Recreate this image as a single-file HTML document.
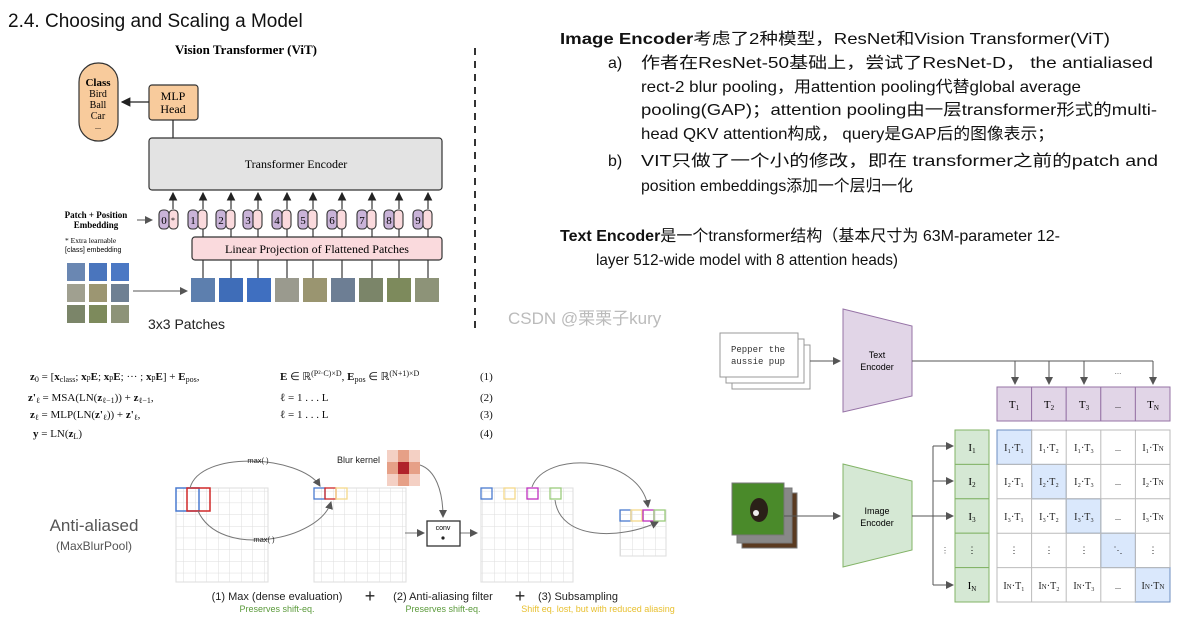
<!DOCTYPE html>
<html><head><meta charset="utf-8"><style>
body{margin:0;background:#fff;width:1189px;height:636px;overflow:hidden}
svg{display:block}
.cj{font-family:"Liberation Sans","Noto Sans CJK SC",sans-serif}
.sf{font-family:"Liberation Serif",serif}
.ss{font-family:"Liberation Sans",sans-serif}
</style></head><body>
<svg width="1189" height="636" viewBox="0 0 1189 636" xmlns="http://www.w3.org/2000/svg">
<defs>
<marker id="ah" markerWidth="8" markerHeight="8" refX="7" refY="4" orient="auto"><path d="M0,0 L8,4 L0,8 z" fill="#222"/></marker>
<marker id="ag" markerWidth="8" markerHeight="8" refX="7" refY="4" orient="auto"><path d="M0,0 L8,4 L0,8 z" fill="#555"/></marker>
<pattern id="g8" width="11.5" height="11.7" patternUnits="userSpaceOnUse"><path d="M11.5 0 V11.7 M0 11.7 H11.5" stroke="#ddd" fill="none"/></pattern>
</defs>
<!-- heading -->
<text x="8" y="27" class="ss" font-size="19" fill="#111">2.4. Choosing and Scaling a Model</text>
<text x="246" y="54" class="sf" font-size="13" font-weight="bold" text-anchor="middle">Vision Transformer (ViT)</text>
<line x1="475" y1="48" x2="475" y2="332" stroke="#333" stroke-width="2" stroke-dasharray="7,6"/>
<!-- class pill -->
<rect x="79" y="63" width="39" height="78" rx="19" fill="#f8cb9c" stroke="#333" stroke-width="1.2"/>
<text x="98" y="86" class="sf" font-size="11" font-weight="bold" text-anchor="middle">Class</text>
<text x="98" y="97" class="sf" font-size="10" text-anchor="middle">Bird</text>
<text x="98" y="108" class="sf" font-size="10" text-anchor="middle">Ball</text>
<text x="98" y="119" class="sf" font-size="10" text-anchor="middle">Car</text>
<text x="98" y="129" class="sf" font-size="8" text-anchor="middle">...</text>
<rect x="149" y="85" width="49" height="35" rx="3" fill="#f8cb9c" stroke="#333" stroke-width="1.2"/>
<text x="173" y="100" class="sf" font-size="12" text-anchor="middle">MLP</text>
<text x="173" y="113" class="sf" font-size="12" text-anchor="middle">Head</text>
<line x1="149" y1="102" x2="122" y2="102" stroke="#222" stroke-width="1.2" marker-end="url(#ah)"/>
<line x1="173" y1="120" x2="173" y2="138" stroke="#222" stroke-width="1.2"/>
<rect x="149" y="138" width="293" height="52" rx="3" fill="#e3e3e3" stroke="#333" stroke-width="1.2"/>
<text x="296" y="168" class="sf" font-size="12" text-anchor="middle">Transformer Encoder</text>
<text x="96" y="218" class="sf" font-size="9" font-weight="bold" text-anchor="middle">Patch + Position</text>
<text x="96" y="228" class="sf" font-size="9" font-weight="bold" text-anchor="middle">Embedding</text>
<text x="65" y="243" class="sf" font-size="7.5">* Extra learnable</text>
<text x="65" y="252" class="ss" font-size="7">[class] embedding</text>
<line x1="137" y1="220" x2="152" y2="220" stroke="#555" stroke-width="1" marker-end="url(#ag)"/>
<g class="sf" font-size="11" text-anchor="middle" stroke-width="1.1">
<g id="tk">
</g>
</g>
<!-- tokens -->
<g stroke="#333" stroke-width="1.1">
<rect x="159" y="210" width="10" height="19" rx="4" fill="#c9b3d8"/><rect x="169" y="210" width="9" height="19" rx="4" fill="#fadadd"/>
<rect x="188" y="210" width="10" height="19" rx="4" fill="#c9b3d8"/><rect x="198" y="210" width="9" height="19" rx="4" fill="#fadadd"/>
<rect x="216" y="210" width="10" height="19" rx="4" fill="#c9b3d8"/><rect x="226" y="210" width="9" height="19" rx="4" fill="#fadadd"/>
<rect x="243" y="210" width="10" height="19" rx="4" fill="#c9b3d8"/><rect x="253" y="210" width="9" height="19" rx="4" fill="#fadadd"/>
<rect x="272" y="210" width="10" height="19" rx="4" fill="#c9b3d8"/><rect x="282" y="210" width="9" height="19" rx="4" fill="#fadadd"/>
<rect x="298" y="210" width="10" height="19" rx="4" fill="#c9b3d8"/><rect x="308" y="210" width="9" height="19" rx="4" fill="#fadadd"/>
<rect x="327" y="210" width="10" height="19" rx="4" fill="#c9b3d8"/><rect x="337" y="210" width="9" height="19" rx="4" fill="#fadadd"/>
<rect x="357" y="210" width="10" height="19" rx="4" fill="#c9b3d8"/><rect x="367" y="210" width="9" height="19" rx="4" fill="#fadadd"/>
<rect x="384" y="210" width="10" height="19" rx="4" fill="#c9b3d8"/><rect x="394" y="210" width="9" height="19" rx="4" fill="#fadadd"/>
<rect x="413" y="210" width="10" height="19" rx="4" fill="#c9b3d8"/><rect x="423" y="210" width="9" height="19" rx="4" fill="#fadadd"/>
</g>
<g class="sf" font-size="11" text-anchor="middle">
<text x="164" y="224">0</text><text x="173" y="223" font-size="8">*</text>
<text x="193" y="224">1</text><text x="221" y="224">2</text><text x="248" y="224">3</text><text x="277" y="224">4</text><text x="303" y="224">5</text><text x="332" y="224">6</text><text x="362" y="224">7</text><text x="389" y="224">8</text><text x="418" y="224">9</text>
</g>
<g stroke="#222" stroke-width="1.1" marker-end="url(#ah)">
<line x1="173" y1="209" x2="173" y2="193"/><line x1="203" y1="209" x2="203" y2="193"/><line x1="231" y1="209" x2="231" y2="193"/><line x1="258" y1="209" x2="258" y2="193"/><line x1="287" y1="209" x2="287" y2="193"/><line x1="313" y1="209" x2="313" y2="193"/><line x1="342" y1="209" x2="342" y2="193"/><line x1="372" y1="209" x2="372" y2="193"/><line x1="399" y1="209" x2="399" y2="193"/><line x1="428" y1="209" x2="428" y2="193"/>
</g>
<g stroke="#222" stroke-width="1.1">
<line x1="203" y1="229" x2="203" y2="237"/><line x1="231" y1="229" x2="231" y2="237"/><line x1="258" y1="229" x2="258" y2="237"/><line x1="287" y1="229" x2="287" y2="237"/><line x1="313" y1="229" x2="313" y2="237"/><line x1="342" y1="229" x2="342" y2="237"/><line x1="372" y1="229" x2="372" y2="237"/><line x1="399" y1="229" x2="399" y2="237"/><line x1="428" y1="229" x2="428" y2="237"/>
<line x1="203" y1="260" x2="203" y2="278"/><line x1="231" y1="260" x2="231" y2="278"/><line x1="258" y1="260" x2="258" y2="278"/><line x1="287" y1="260" x2="287" y2="278"/><line x1="313" y1="260" x2="313" y2="278"/><line x1="342" y1="260" x2="342" y2="278"/><line x1="372" y1="260" x2="372" y2="278"/><line x1="399" y1="260" x2="399" y2="278"/><line x1="428" y1="260" x2="428" y2="278"/>
</g>
<rect x="192" y="237" width="250" height="23" rx="3" fill="#fadadd" stroke="#333" stroke-width="1.2"/>
<text x="317" y="253" class="sf" font-size="12" text-anchor="middle">Linear Projection of Flattened Patches</text>
<!-- patches -->
<g>
<rect x="191" y="278" width="24" height="24" fill="#5d7fae"/><rect x="219" y="278" width="24" height="24" fill="#3f6db8"/><rect x="247" y="278" width="24" height="24" fill="#3f6fc0"/><rect x="275" y="278" width="24" height="24" fill="#9a9a8e"/><rect x="303" y="278" width="24" height="24" fill="#9a9570"/><rect x="331" y="278" width="24" height="24" fill="#6d7e94"/><rect x="359" y="278" width="24" height="24" fill="#7b8569"/><rect x="387" y="278" width="24" height="24" fill="#7d8a5c"/><rect x="415" y="278" width="24" height="24" fill="#8d9378"/>
<rect x="67" y="263" width="18" height="18" fill="#6a87b2"/><rect x="89" y="263" width="18" height="18" fill="#4a75bd"/><rect x="111" y="263" width="18" height="18" fill="#4b78c4"/>
<rect x="67" y="284" width="18" height="18" fill="#a0a090"/><rect x="89" y="284" width="18" height="18" fill="#9c9672"/><rect x="111" y="284" width="18" height="18" fill="#6f8093"/>
<rect x="67" y="305" width="18" height="18" fill="#7b8569"/><rect x="89" y="305" width="18" height="18" fill="#7d8a5c"/><rect x="111" y="305" width="18" height="18" fill="#8d9378"/>
</g>
<line x1="133" y1="291" x2="187" y2="291" stroke="#555" stroke-width="1" marker-end="url(#ag)"/>
<text x="148" y="329" class="ss" font-size="14" fill="#222">3x3 Patches</text>
<!-- equations -->
<g class="sf" font-size="11" fill="#111">
<text x="30" y="380"><tspan font-weight="bold">z</tspan><tspan font-size="8" dy="2">0</tspan><tspan dy="-2"> = [</tspan><tspan font-weight="bold">x</tspan><tspan font-size="8" dy="2">class</tspan><tspan dy="-2">; </tspan><tspan font-weight="bold">x</tspan><tspan font-size="8">p</tspan><tspan font-weight="bold">E</tspan>; <tspan font-weight="bold">x</tspan><tspan font-size="8">p</tspan><tspan font-weight="bold">E</tspan>; ··· ; <tspan font-weight="bold">x</tspan><tspan font-size="8">p</tspan><tspan font-weight="bold">E</tspan>] + <tspan font-weight="bold">E</tspan><tspan font-size="8" dy="2">pos</tspan><tspan dy="-2">,</tspan></text>
<text x="280" y="380"><tspan font-weight="bold">E</tspan> ∈ ℝ<tspan font-size="8" dy="-4">(P²·C)×D</tspan><tspan dy="4">, </tspan><tspan font-weight="bold">E</tspan><tspan font-size="8" dy="2">pos</tspan><tspan dy="-2"> ∈ ℝ</tspan><tspan font-size="8" dy="-4">(N+1)×D</tspan></text>
<text x="480" y="380">(1)</text>
<text x="28" y="401"><tspan font-weight="bold">z'</tspan><tspan font-size="8" dy="2">ℓ</tspan><tspan dy="-2"> = MSA(LN(</tspan><tspan font-weight="bold">z</tspan><tspan font-size="8" dy="2">ℓ−1</tspan><tspan dy="-2">)) + </tspan><tspan font-weight="bold">z</tspan><tspan font-size="8" dy="2">ℓ−1</tspan><tspan dy="-2">,</tspan></text>
<text x="280" y="401">ℓ = 1 . . . L</text><text x="480" y="401">(2)</text>
<text x="30" y="418"><tspan font-weight="bold">z</tspan><tspan font-size="8" dy="2">ℓ</tspan><tspan dy="-2"> = MLP(LN(</tspan><tspan font-weight="bold">z'</tspan><tspan font-size="8" dy="2">ℓ</tspan><tspan dy="-2">)) + </tspan><tspan font-weight="bold">z'</tspan><tspan font-size="8" dy="2">ℓ</tspan><tspan dy="-2">,</tspan></text>
<text x="280" y="418">ℓ = 1 . . . L</text><text x="480" y="418">(3)</text>
<text x="33" y="437"><tspan font-weight="bold">y</tspan> = LN(<tspan font-weight="bold">z</tspan><tspan font-size="8" dy="2">L</tspan><tspan dy="-2">)</tspan></text>
<text x="480" y="437">(4)</text>
</g>
<!-- anti-aliased -->
<text x="94" y="531" class="ss" font-size="17" fill="#555" text-anchor="middle">Anti-aliased</text>
<text x="94" y="550" class="ss" font-size="12" fill="#555" text-anchor="middle">(MaxBlurPool)</text>
<rect x="176" y="488" width="92" height="94" fill="url(#g8)" stroke="#ddd"/>
<rect x="314" y="488" width="92" height="94" fill="url(#g8)" stroke="#ddd"/>
<rect x="481" y="488" width="92" height="94" fill="url(#g8)" stroke="#ddd"/>
<rect x="620" y="510" width="46" height="46" fill="url(#g8)" stroke="#ddd"/>
<rect x="176" y="488" width="23" height="23" fill="none" stroke="#4a7bd0" stroke-width="1.5"/>
<rect x="187" y="488" width="23" height="23" fill="none" stroke="#d02828" stroke-width="1.5"/>
<rect x="314" y="488" width="11" height="11" fill="none" stroke="#4a7bd0" stroke-width="1.3"/>
<rect x="325" y="488" width="11" height="11" fill="none" stroke="#d02828" stroke-width="1.3"/>
<rect x="336" y="488" width="11" height="11" fill="none" stroke="#f5d98a" stroke-width="1.3"/>
<rect x="481" y="488" width="11" height="11" fill="none" stroke="#4a7bd0" stroke-width="1.3"/>
<rect x="504" y="488" width="11" height="11" fill="none" stroke="#f5d98a" stroke-width="1.3"/>
<rect x="527" y="488" width="11" height="11" fill="none" stroke="#c030c0" stroke-width="1.3"/>
<rect x="550" y="488" width="11" height="11" fill="none" stroke="#9ccc7c" stroke-width="1.3"/>
<rect x="620" y="510" width="11" height="11" fill="none" stroke="#4a7bd0" stroke-width="1.3"/>
<rect x="631" y="510" width="11" height="11" fill="none" stroke="#f5d98a" stroke-width="1.3"/>
<rect x="643" y="510" width="11" height="11" fill="none" stroke="#c030c0" stroke-width="1.3"/>
<rect x="654" y="510" width="11" height="11" fill="none" stroke="#9ccc7c" stroke-width="1.3"/>
<g fill="none" stroke="#777" stroke-width="1">
<path d="M190 488 C 200 450, 300 455, 320 486" marker-end="url(#ag)"/>
<path d="M198 511 C 220 560, 320 540, 331 502" marker-end="url(#ag)"/>
<path d="M420 465 C 435 470, 443 490, 443 517" marker-end="url(#ag)"/>
<path d="M532 487 C 545 450, 640 455, 648 507" marker-end="url(#ag)"/>
<path d="M555 500 C 560 540, 620 540, 658 522" marker-end="url(#ag)"/>
<line x1="405" y1="533" x2="424" y2="533" marker-end="url(#ag)"/>
<line x1="460" y1="533" x2="477" y2="533" marker-end="url(#ag)"/>
</g>
<text x="258" y="463" class="ss" font-size="7.5" fill="#222" text-anchor="middle">max( )</text>
<text x="264" y="542" class="ss" font-size="7.5" fill="#222" text-anchor="middle">max( )</text>
<text x="337" y="463" class="ss" font-size="9" fill="#222">Blur kernel</text>
<g>
<rect x="387" y="450" width="11" height="12" fill="#f4d0c4"/><rect x="398" y="450" width="11" height="12" fill="#e6a087"/><rect x="409" y="450" width="11" height="12" fill="#f4d0c4"/>
<rect x="387" y="462" width="11" height="12" fill="#e6a087"/><rect x="398" y="462" width="11" height="12" fill="#b0232a"/><rect x="409" y="462" width="11" height="12" fill="#e6a087"/>
<rect x="387" y="474" width="11" height="12" fill="#f4d0c4"/><rect x="398" y="474" width="11" height="12" fill="#e6a087"/><rect x="409" y="474" width="11" height="12" fill="#f4d0c4"/>
</g>
<rect x="427" y="521" width="33" height="25" fill="#fff" stroke="#333" stroke-width="1.3"/>
<text x="443" y="530" class="ss" font-size="7" text-anchor="middle">conv</text>
<circle cx="443" cy="538" r="1.6" fill="#222"/>
<g class="ss" text-anchor="middle">
<text x="277" y="600" font-size="11" fill="#222">(1) Max (dense evaluation)</text>
<text x="277" y="612" font-size="9" fill="#5a9a3a">Preserves shift-eq.</text>
<text x="370" y="602" font-size="18" fill="#222">+</text>
<text x="443" y="600" font-size="11" fill="#222">(2) Anti-aliasing filter</text>
<text x="443" y="612" font-size="9" fill="#5a9a3a">Preserves shift-eq.</text>
<text x="520" y="602" font-size="18" fill="#222">+</text>
<text x="578" y="600" font-size="11" fill="#222">(3) Subsampling</text>
<text x="598" y="612" font-size="9" fill="#e8c030">Shift eq. lost, but with reduced aliasing</text>
</g>
<!-- right text -->
<g class="cj" font-size="16" fill="#111">
<text x="560" y="44" textLength="550" lengthAdjust="spacingAndGlyphs"><tspan font-weight="bold">Image Encoder</tspan>考虑了2种模型，ResNet和Vision Transformer(ViT)</text>
<text x="608" y="68">a)</text>
<text x="641" y="68" textLength="512" lengthAdjust="spacingAndGlyphs">作者在ResNet-50基础上，尝试了ResNet-D， the antialiased</text>
<text x="641" y="92" textLength="440" lengthAdjust="spacingAndGlyphs">rect-2 blur pooling，用attention pooling代替global average</text>
<text x="641" y="115" textLength="516" lengthAdjust="spacingAndGlyphs">pooling(GAP)；attention pooling由一层transformer形式的multi-</text>
<text x="641" y="139" textLength="413" lengthAdjust="spacingAndGlyphs">head QKV attention构成， query是GAP后的图像表示；</text>
<text x="608" y="166">b)</text>
<text x="641" y="166" textLength="517" lengthAdjust="spacingAndGlyphs">VIT只做了一个小的修改，即在 transformer之前的patch and</text>
<text x="641" y="191" textLength="272" lengthAdjust="spacingAndGlyphs">position embeddings添加一个层归一化</text>
<text x="560" y="241" textLength="500" lengthAdjust="spacingAndGlyphs"><tspan font-weight="bold">Text Encoder</tspan>是一个transformer结构（基本尺寸为 63M-parameter 12-</text>
<text x="596" y="265" textLength="302" lengthAdjust="spacingAndGlyphs">layer 512-wide model with 8 attention heads)</text>
</g>
<text x="508" y="324" class="cj" font-size="17" fill="#bbb">CSDN @栗栗子kury</text>
<!-- CLIP diagram -->
<g stroke="#999" stroke-width="1" fill="#fff">
<rect x="732" y="345" width="78" height="44"/><rect x="726" y="339" width="78" height="44"/><rect x="720" y="333" width="78" height="44"/>
</g>
<text x="758" y="352" font-family="Liberation Mono,monospace" font-size="9" fill="#333" text-anchor="middle">Pepper the</text>
<text x="758" y="364" font-family="Liberation Mono,monospace" font-size="9" fill="#333" text-anchor="middle">aussie pup</text>
<line x1="810" y1="361" x2="840" y2="361" stroke="#555" marker-end="url(#ag)"/>
<path d="M843 309 L912 326 L912 396 L843 412 Z" fill="#e1d5e7" stroke="#9673a6"/>
<text x="877" y="358" class="ss" font-size="9" text-anchor="middle">Text</text>
<text x="877" y="370" class="ss" font-size="9" text-anchor="middle">Encoder</text>
<g stroke="#555" fill="none">
<path d="M912 361 H1153"/>
<line x1="1015" y1="361" x2="1015" y2="384" marker-end="url(#ag)"/>
<line x1="1049" y1="361" x2="1049" y2="384" marker-end="url(#ag)"/>
<line x1="1084" y1="361" x2="1084" y2="384" marker-end="url(#ag)"/>
<line x1="1153" y1="361" x2="1153" y2="384" marker-end="url(#ag)"/>
</g>
<text x="1118" y="374" font-size="8" class="ss" text-anchor="middle" fill="#555">...</text>
<g fill="#e1d5e7" stroke="#9673a6">
<rect x="997" y="387" width="34.6" height="34"/><rect x="1031.6" y="387" width="34.6" height="34"/><rect x="1066.2" y="387" width="34.6" height="34"/><rect x="1100.8" y="387" width="34.6" height="34"/><rect x="1135.4" y="387" width="34.6" height="34"/>
</g>
<g class="sf" font-size="11" text-anchor="middle">
<text x="1014" y="408">T<tspan font-size="7" dy="2">1</tspan></text><text x="1049" y="408">T<tspan font-size="7" dy="2">2</tspan></text><text x="1084" y="408">T<tspan font-size="7" dy="2">3</tspan></text><text x="1118" y="408" font-size="8">...</text><text x="1153" y="408">T<tspan font-size="7" dy="2">N</tspan></text>
</g>
<!-- image stack -->
<rect x="742" y="493" width="55" height="55" fill="#5a3a20" stroke="#777"/>
<rect x="737" y="488" width="55" height="55" fill="#888" stroke="#777"/>
<rect x="732" y="483" width="52" height="52" fill="#4a8a2a" stroke="#777"/>
<ellipse cx="759" cy="510" rx="9" ry="12" fill="#2a2018"/><circle cx="756" cy="513" r="3" fill="#eee"/>
<line x1="784" y1="516" x2="840" y2="516" stroke="#555" marker-end="url(#ag)"/>
<path d="M843 464 L912 481 L912 550 L843 567 Z" fill="#d5e8d4" stroke="#82b366"/>
<text x="877" y="514" class="ss" font-size="9" text-anchor="middle">Image</text>
<text x="877" y="526" class="ss" font-size="9" text-anchor="middle">Encoder</text>
<g stroke="#555" fill="none">
<path d="M912 516 H933 M933 446 V585"/>
<line x1="933" y1="446" x2="953" y2="446" marker-end="url(#ag)"/>
<line x1="933" y1="481" x2="953" y2="481" marker-end="url(#ag)"/>
<line x1="933" y1="516" x2="953" y2="516" marker-end="url(#ag)"/>
<line x1="933" y1="585" x2="953" y2="585" marker-end="url(#ag)"/>
</g>
<text x="941" y="553" font-size="8" class="ss" fill="#555">⋮</text>
<g fill="#d5e8d4" stroke="#82b366">
<rect x="955" y="430" width="34" height="34.4"/><rect x="955" y="464.4" width="34" height="34.4"/><rect x="955" y="498.8" width="34" height="34.4"/><rect x="955" y="533.2" width="34" height="34.4"/><rect x="955" y="567.6" width="34" height="34.4"/>
</g>
<g class="sf" font-size="11" text-anchor="middle">
<text x="972" y="451">I<tspan font-size="7" dy="2">1</tspan></text><text x="972" y="485">I<tspan font-size="7" dy="2">2</tspan></text><text x="972" y="520">I<tspan font-size="7" dy="2">3</tspan></text><text x="972" y="553" font-size="9">⋮</text><text x="972" y="589">I<tspan font-size="7" dy="2">N</tspan></text>
</g>
<!-- matrix -->
<g stroke="#bbb" fill="#fff">
<rect x="997" y="430" width="173" height="172"/>
</g>
<g fill="#dae8fc" stroke="#6c8ebf">
<rect x="997" y="430" width="34.6" height="34.4"/><rect x="1031.6" y="464.4" width="34.6" height="34.4"/><rect x="1066.2" y="498.8" width="34.6" height="34.4"/><rect x="1100.8" y="533.2" width="34.6" height="34.4"/><rect x="1135.4" y="567.6" width="34.6" height="34.4"/>
</g>
<g stroke="#bbb">
<line x1="1031.6" y1="430" x2="1031.6" y2="602"/><line x1="1066.2" y1="430" x2="1066.2" y2="602"/><line x1="1100.8" y1="430" x2="1100.8" y2="602"/><line x1="1135.4" y1="430" x2="1135.4" y2="602"/>
<line x1="997" y1="464.4" x2="1170" y2="464.4"/><line x1="997" y1="498.8" x2="1170" y2="498.8"/><line x1="997" y1="533.2" x2="1170" y2="533.2"/><line x1="997" y1="567.6" x2="1170" y2="567.6"/>
</g>
<g class="sf" font-size="10" text-anchor="middle" fill="#222">
<text x="1014" y="451">I₁·T₁</text><text x="1049" y="451">I₁·T₂</text><text x="1084" y="451">I₁·T₃</text><text x="1118" y="451" font-size="8">...</text><text x="1153" y="451">I₁·T<tspan font-size="7">N</tspan></text>
<text x="1014" y="485">I₂·T₁</text><text x="1049" y="485">I₂·T₂</text><text x="1084" y="485">I₂·T₃</text><text x="1118" y="485" font-size="8">...</text><text x="1153" y="485">I₂·T<tspan font-size="7">N</tspan></text>
<text x="1014" y="520">I₃·T₁</text><text x="1049" y="520">I₃·T₂</text><text x="1084" y="520">I₃·T₃</text><text x="1118" y="520" font-size="8">...</text><text x="1153" y="520">I₃·T<tspan font-size="7">N</tspan></text>
<text x="1014" y="553" font-size="9">⋮</text><text x="1049" y="553" font-size="9">⋮</text><text x="1084" y="553" font-size="9">⋮</text><text x="1118" y="553" font-size="9">⋱</text><text x="1153" y="553" font-size="9">⋮</text>
<text x="1014" y="589">I<tspan font-size="7">N</tspan>·T₁</text><text x="1049" y="589">I<tspan font-size="7">N</tspan>·T₂</text><text x="1084" y="589">I<tspan font-size="7">N</tspan>·T₃</text><text x="1118" y="589" font-size="8">...</text><text x="1153" y="589">I<tspan font-size="7">N</tspan>·T<tspan font-size="7">N</tspan></text>
</g>
</svg>
</body></html>
